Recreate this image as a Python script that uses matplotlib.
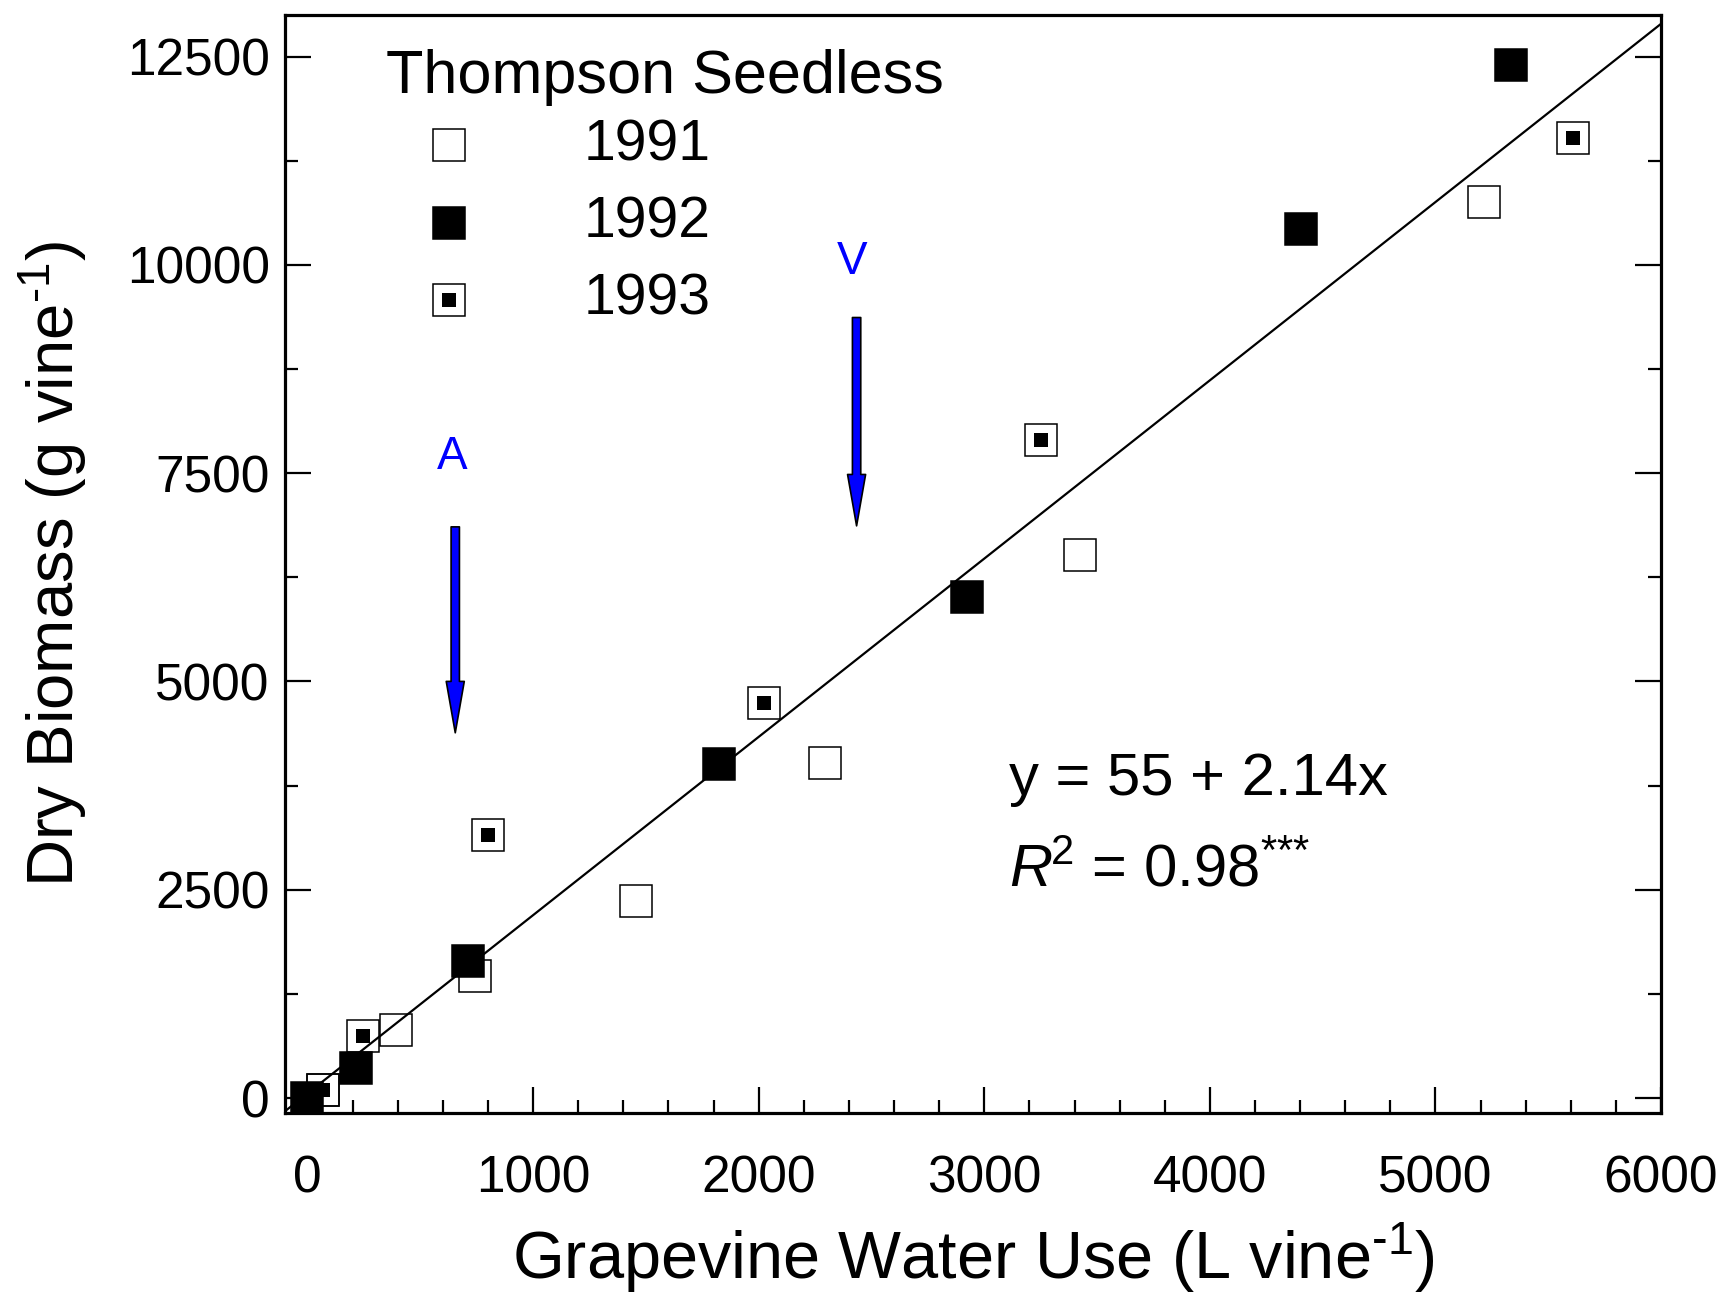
import numpy as np
import matplotlib
matplotlib.use('Agg')
import matplotlib.pyplot as plt
from matplotlib.ticker import MultipleLocator

plt.rcParams['font.family'] = ['Liberation Sans', 'DejaVu Sans']
plt.rcParams['mathtext.fontset'] = 'custom'
plt.rcParams['mathtext.rm'] = 'Liberation Sans'
plt.rcParams['mathtext.it'] = 'Liberation Sans:italic'

# water use (L/vine) and dry biomass (g/vine)
water_1991 = [68, 391, 742, 1456, 2292, 3424, 5213]
biomass_1991 = [100, 820, 1468, 2360, 4024, 6523, 10756]

water_1992 = [0, 216, 711, 1822, 2924, 4404, 5336]
biomass_1992 = [0, 363, 1644, 4010, 6020, 10427, 12395]

water_1993 = [68, 246, 801, 2022, 3252, 5610]
biomass_1993 = [100, 740, 3160, 4738, 7900, 11520]

years = ['1991', '1992', '1993']
intercept, slope = 55, 2.14

fig = plt.figure(figsize=(17.29, 12.96), dpi=100)
ax = fig.add_axes([0.1648, 0.1412, 0.7959, 0.8472])

ms = 23
inner = 10
ew = 1.1

# regression line across the whole x range
xl = np.array([-100, 6000])
ax.plot(xl, intercept + slope * xl, color='black', lw=1.6, zorder=1)

ax.plot(water_1991, biomass_1991, 's', ms=ms, mfc='none', mec='black', mew=ew, zorder=2)
ax.plot(water_1993, biomass_1993, 's', ms=ms, mfc='none', mec='black', mew=ew, zorder=3)
ax.plot(water_1993, biomass_1993, 's', ms=inner, mfc='black', mec='black', mew=0, zorder=3)
ax.plot(water_1992, biomass_1992, 's', ms=ms, mfc='black', mec='black', mew=ew, zorder=4)

ax.set_xlim(-100, 6000)
ax.set_ylim(-180, 13000)

ax.xaxis.set_major_locator(MultipleLocator(1000))
ax.xaxis.set_minor_locator(MultipleLocator(200))
ax.yaxis.set_major_locator(MultipleLocator(2500))
ax.yaxis.set_minor_locator(MultipleLocator(1250))
ax.tick_params(axis='both', which='both', direction='in', width=1.6)
ax.tick_params(which='major', length=19)
ax.tick_params(which='minor', length=9.5)
ax.tick_params(axis='x', which='both', top=False, pad=30, labelsize=37)
ax.tick_params(axis='y', which='both', left=True, right=True, pad=11, labelsize=37)
for s in ax.spines.values():
    s.set_linewidth(2.3)

ax.set_xlabel(r'Grapevine Water Use (L vine$^{\text{-1}}$)', fontsize=48)
ax.set_ylabel(r'Dry Biomass (g vine$^{\text{-1}}$)', fontsize=47)
ax.xaxis.set_label_coords(0.5, -0.098)
ax.yaxis.set_label_coords(-0.142, 0.5)

# legend drawn by hand
ax.text(0.0734, 0.943, 'Thompson Seedless', transform=ax.transAxes,
        fontsize=44, ha='left', va='center')
leg_y = [0.8814, 0.8108, 0.7405]
styles = [dict(mfc='none'), dict(mfc='black'), dict(mfc='none')]
for yr, yy, st in zip(years, leg_y, styles):
    ax.plot([0.119], [yy], 's', ms=ms, mec='black', mew=ew, transform=ax.transAxes, **st)
    if yr == '1993':
        ax.plot([0.119], [yy], 's', ms=inner, mfc='black', mew=0, transform=ax.transAxes)
    ax.text(0.2173, yy, yr, transform=ax.transAxes, fontsize=41, ha='left', va='center')

# phenology arrows
arrow = dict(arrowstyle='simple,head_length=3.7,head_width=1.3,tail_width=0.6',
             fc='blue', ec='black', lw=1.2, shrinkA=0, shrinkB=0, mutation_scale=10)
ax.text(640, 7690, 'A', color='blue', fontsize=33, ha='center', va='center')
ax.annotate('', xy=(655, 4384), xytext=(655, 6856), arrowprops=arrow)
ax.text(2413, 10036, 'V', color='blue', fontsize=33, ha='center', va='center')
ax.annotate('', xy=(2434, 6868), xytext=(2434, 9369), arrowprops=arrow)

ax.text(0.526, 0.3036, 'y = 55 + 2.14x', transform=ax.transAxes,
        fontsize=43, ha='left', va='center')
ax.text(0.526, 0.2204, r'$R^{\!2}$ = 0.98$^{\text{***}}$', transform=ax.transAxes,
        fontsize=43, ha='left', va='center')

fig.savefig('out.png', dpi=100)
